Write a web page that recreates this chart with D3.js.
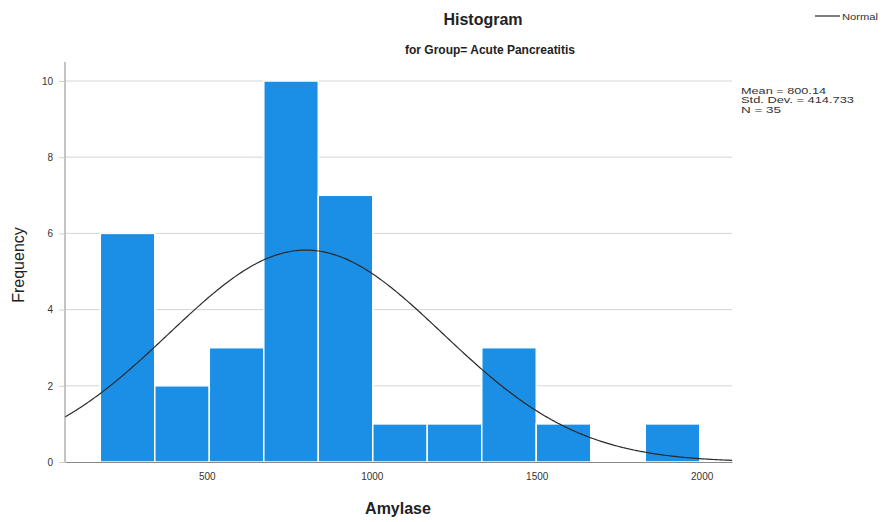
<!DOCTYPE html>
<html>
<head>
<meta charset="utf-8">
<script src="https://cdn.jsdelivr.net/npm/d3@7"></script>
<style>
  html, body { margin: 0; padding: 0; background: #fff; }
  svg { display: block; font-family: "Liberation Sans", Arial, sans-serif; }
</style>
</head>
<body>
<svg id="chart" width="885" height="522"></svg>
<script>
// Histogram of Amylase, Acute Pancreatitis group
const binStart = 177;
const binWidth = 165.2;
const counts = [6, 2, 3, 10, 7, 1, 1, 3, 1, 0, 1];
const xTicks = [500, 1000, 1500, 2000];
const yTicks = [0, 2, 4, 6, 8, 10];
const mean = 800.14;
const stdDev = 414.733;
const n = 35;
const statLines = ["Mean = 800.14", "Std. Dev. = 414.733", "N = 35"];

const svg = d3.select("#chart");
const plot = { left: 65, right: 732, top: 62, bottom: 462 };

const x = d3.scaleLinear().domain([70, 2092]).range([plot.left, plot.right]);
const y = d3.scaleLinear().domain([0, 10.5]).range([plot.bottom, plot.bottom - 10.5 * 38.1]);

// horizontal grid
svg.append("g")
  .selectAll("line")
  .data(yTicks.filter(d => d > 0))
  .join("line")
  .attr("x1", plot.left).attr("x2", plot.right)
  .attr("y1", d => y(d)).attr("y2", d => y(d))
  .attr("stroke", "#d6d6d6").attr("stroke-width", 1);

// bars
const bins = counts.map((c, i) => ({ x0: binStart + i * binWidth, x1: binStart + (i + 1) * binWidth, c }));
svg.append("g")
  .selectAll("rect")
  .data(bins.filter(b => b.c > 0))
  .join("rect")
  .attr("x", b => x(b.x0))
  .attr("width", b => x(b.x1) - x(b.x0))
  .attr("y", b => y(b.c))
  .attr("height", b => y(0) - y(b.c))
  .attr("fill", "#1b8fe6")
  .attr("stroke", "#ffffff")
  .attr("stroke-width", 1.5);

// normal curve scaled to counts
const scaleK = n * binWidth / (stdDev * Math.sqrt(2 * Math.PI));
const xs = d3.range(0, 401).map(i => 70 + (2092 - 70) * i / 400);
const curve = d3.line()
  .x(v => x(v))
  .y(v => y(scaleK * Math.exp(-((v - mean) ** 2) / (2 * stdDev * stdDev))))
  .curve(d3.curveBasis);
svg.append("path")
  .datum(xs)
  .attr("d", curve)
  .attr("fill", "none")
  .attr("stroke", "#2a2a2a")
  .attr("stroke-width", 1.2);

// axes
const xAxis = d3.axisBottom(x).tickValues(xTicks).tickFormat(d3.format("d")).tickSize(0).tickPadding(11);
const gx = svg.append("g").attr("transform", `translate(0,${plot.bottom})`).call(xAxis);
gx.select(".domain").attr("stroke", "#8a8a8a");
gx.selectAll("text").attr("font-size", 10).attr("fill", "#333").attr("font-family", "Liberation Sans, Arial, sans-serif");

const yAxis = d3.axisLeft(y).tickValues(yTicks).tickSize(6).tickPadding(6);
const gy = svg.append("g").attr("transform", `translate(${plot.left},0)`).call(yAxis);
gy.select(".domain").attr("stroke", "#8a8a8a").attr("d", `M0,${plot.top}V${plot.bottom}`);
gy.selectAll(".tick line").attr("stroke", "#d0d0d0");
gy.selectAll("text").attr("font-size", 10).attr("fill", "#333").attr("font-family", "Liberation Sans, Arial, sans-serif");

// titles
svg.append("text").attr("x", 483).attr("y", 25).attr("text-anchor", "middle")
  .attr("font-size", 16).attr("font-weight", "bold").attr("fill", "#222").text("Histogram");
svg.append("text").attr("x", 490).attr("y", 54).attr("text-anchor", "middle")
  .attr("font-size", 12).attr("font-weight", "bold").attr("fill", "#222").text("for Group= Acute Pancreatitis");
svg.append("text").attr("x", 398).attr("y", 514).attr("text-anchor", "middle")
  .attr("font-size", 16).attr("font-weight", "bold").attr("fill", "#222").text("Amylase");
svg.append("text").attr("transform", "translate(24,265) rotate(-90)").attr("text-anchor", "middle")
  .attr("font-size", 16).attr("fill", "#222").text("Frequency");

// legend
svg.append("line").attr("x1", 815).attr("x2", 840).attr("y1", 16).attr("y2", 16)
  .attr("stroke", "#2a2a2a").attr("stroke-width", 1.2);
svg.append("text").attr("x", 842).attr("y", 19.5).attr("font-size", 9.5).attr("fill", "#333")
  .attr("textLength", 36).attr("lengthAdjust", "spacingAndGlyphs").text("Normal");

// summary statistics (wide, condensed-height lettering)
const statWidths = [85, 113, 40];
svg.append("g").selectAll("text").data(statLines).join("text")
  .attr("x", 741).attr("y", (d, i) => 93.5 + i * 9.5)
  .attr("font-size", 9.5).attr("fill", "#333")
  .attr("textLength", (d, i) => statWidths[i]).attr("lengthAdjust", "spacingAndGlyphs")
  .text(d => d);
</script>
</body>
</html>
